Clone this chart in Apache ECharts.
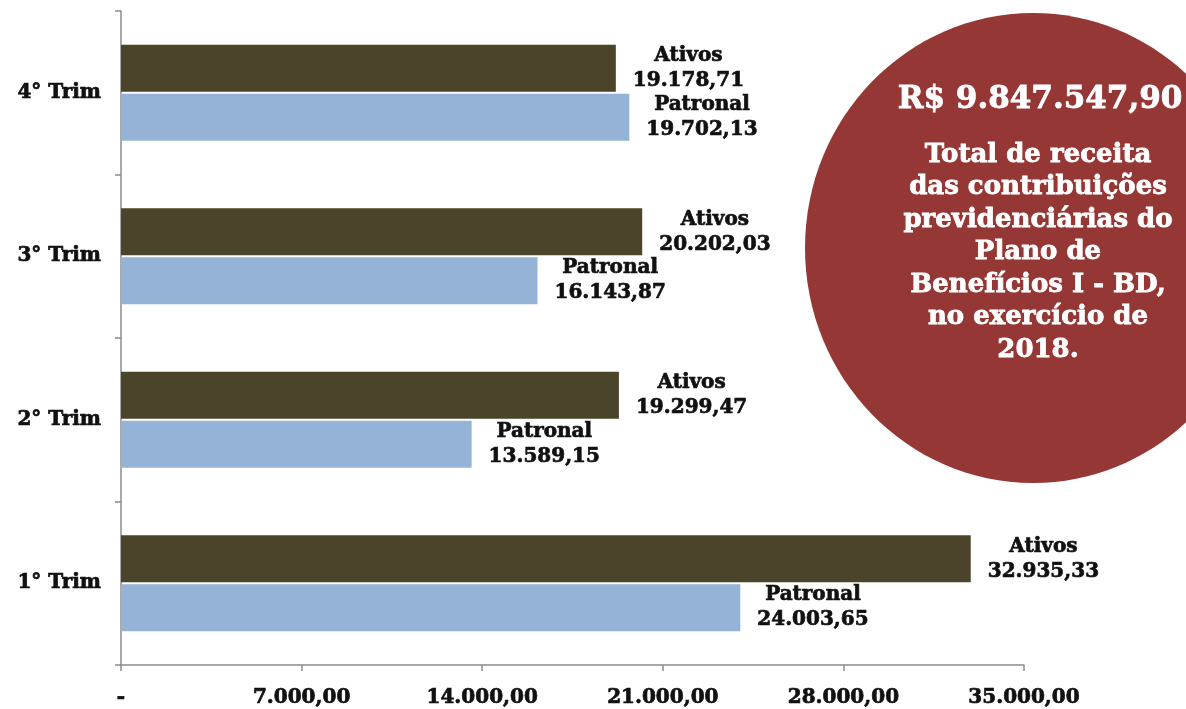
<!DOCTYPE html>
<html>
<head>
<meta charset="utf-8">
<title>Receita das contribuições previdenciárias 2018</title>
<script src="https://cdn.jsdelivr.net/npm/echarts@6/dist/echarts.min.js"></script>
<style>
  html, body { margin: 0; padding: 0; background: #ffffff; }
  #chart { width: 1186px; height: 709px; }
</style>
</head>
<body>
<div id="chart"></div>
<script>
// Quarterly contributions, bottom to top on the category axis
const quarters = ['1° Trim', '2° Trim', '3° Trim', '4° Trim'];
const ativos = [32935.33, 19299.47, 20202.03, 19178.71];
const patronal = [24003.65, 13589.15, 16143.87, 19702.13];
const seriesNames = ['Ativos', 'Patronal'];
const axisMax = 35000;
const axisStep = 7000;

const totalText = 'R$ 9.847.547,90';
const noteLines = [
  'Total de receita',
  'das contribuições',
  'previdenciárias do',
  'Plano de',
  'Benefícios I - BD,',
  'no exercício de',
  '2018.'
];

const FONT = '"DejaVu Serif", "Liberation Serif", serif';
const INK = '#111111';

// Brazilian number style: 19.178,71
function brl(v) {
  const parts = v.toFixed(2).split('.');
  const int = parts[0].replace(/\B(?=(\d{3})+(?!\d))/g, '.');
  return int + ',' + parts[1];
}

// heavy serif look: bold face plus a thin outline in the same colour
const heavy = (size, color) => ({
  fontFamily: FONT,
  fontWeight: 'bold',
  fontSize: size,
  color: color,
  textBorderColor: color,
  textBorderWidth: 0.7
});

function barLabel(name) {
  const line = Object.assign(heavy(20, INK), { align: 'center', lineHeight: 25 });
  return {
    show: true,
    position: 'right',
    distance: 17,
    formatter: p => '{n|' + name + '}\n{v|' + brl(p.value) + '}',
    rich: { n: line, v: Object.assign({}, line) }
  };
}

const chart = echarts.init(document.getElementById('chart'), null, { renderer: 'canvas' });

const noteGraphics = noteLines.map((line, i) => ({
  type: 'text',
  x: 1038,
  y: 155 + i * 32.5,
  z: 20,
  style: {
    text: line,
    fill: '#ffffff',
    stroke: '#ffffff',
    lineWidth: 0.8,
    font: 'bold 26px ' + FONT,
    textAlign: 'center',
    textVerticalAlign: 'middle'
  }
}));

chart.setOption({
  animation: false,
  backgroundColor: '#ffffff',
  grid: { left: 121, right: 162, top: 11, bottom: 44, containLabel: false },
  xAxis: {
    type: 'value',
    min: 0,
    max: axisMax,
    interval: axisStep,
    splitLine: { show: false },
    axisLine: { show: true, lineStyle: { color: '#8c8c8c', width: 1.5 } },
    axisTick: { show: true, length: 6, lineStyle: { color: '#8c8c8c', width: 1.5 } },
    axisLabel: Object.assign(heavy(20, INK), {
      margin: 23,
      formatter: v => (v === 0 ? '-' : brl(v))
    })
  },
  yAxis: {
    type: 'category',
    data: quarters,
    axisLine: { show: true, lineStyle: { color: '#8c8c8c', width: 1.5 } },
    axisTick: { show: true, length: 6, lineStyle: { color: '#8c8c8c', width: 1.5 } },
    axisLabel: Object.assign(heavy(20, INK), { margin: 20 })
  },
  series: [
    {
      name: seriesNames[0],
      type: 'bar',
      data: ativos,
      barWidth: 47,
      barGap: '4%',
      itemStyle: { color: '#4A452A' },
      label: barLabel(seriesNames[0])
    },
    {
      name: seriesNames[1],
      type: 'bar',
      data: patronal,
      barWidth: 47,
      barGap: '4%',
      itemStyle: { color: '#95B3D7' },
      label: barLabel(seriesNames[1])
    }
  ],
  graphic: [
    {
      type: 'ellipse',
      z: 10,
      shape: { cx: 1033, cy: 248, rx: 228, ry: 235 },
      style: { fill: '#953735' }
    },
    {
      type: 'text',
      x: 1040,
      y: 100,
      z: 20,
      style: {
        text: totalText,
        fill: '#ffffff',
        stroke: '#ffffff',
        lineWidth: 0.8,
        font: 'bold 31px ' + FONT,
        textAlign: 'center',
        textVerticalAlign: 'middle'
      }
    }
  ].concat(noteGraphics)
});
</script>
</body>
</html>
